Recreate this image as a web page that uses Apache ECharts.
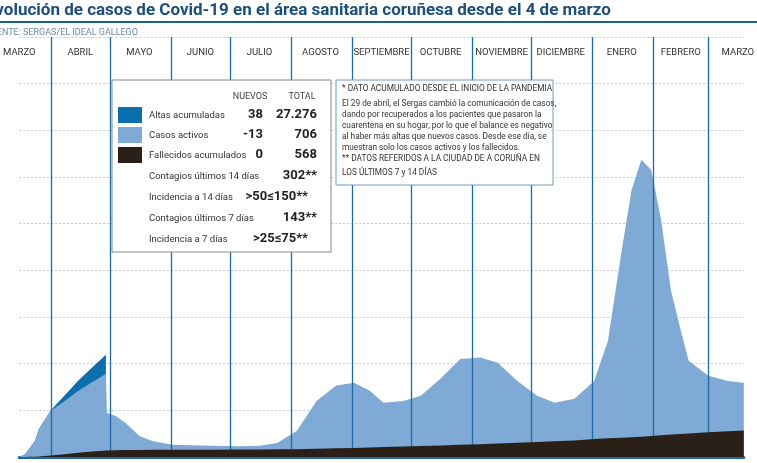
<!DOCTYPE html>
<html><head><meta charset="utf-8">
<script src="https://cdn.jsdelivr.net/npm/echarts@6/dist/echarts.min.js"></script>
<style>html,body{margin:0;padding:0;background:#fff}#c{width:757px;height:463px}</style>
</head><body><div id="c"></div>
<script>
// day index 0 = 4 March 2020
const months = ['MARZO','ABRIL','MAYO','JUNIO','JULIO','AGOSTO','SEPTIEMBRE','OCTUBRE','NOVIEMBRE','DICIEMBRE','ENERO','FEBRERO','MARZO'];
const monthStarts = [28,58,89,119,150,181,211,242,272,303,334,362];
const monthMids = [12,43,73,104,134,165,196,226,257,287,318,348,377];
const days =       [12,15,17,20,22,25,28,35,42,49,56,56.5,61,66,73,80,90,109,124,134,143,153,163,173,182,190,197,207,216,226,236,246,255,265,275,284,294,304,311,318,323,328,333,338,343,348,352,362,372,380];
const activos =    [0,58,166,342,588,780,960,1140,1330,1480,1645,809,735,580,298,186,104,82,70,78,136,394,1025,1345,1395,1215,945,975,1075,1435,1840,1855,1730,1325,990,825,895,1245,2090,4015,5295,5935,5700,4615,3090,2215,1555,1210,1080,1022];
const fallecidos = [0,2,4,8,12,20,30,60,90,120,140,141,145,150,152,154,156,158,160,162,164,166,175,185,195,205,215,225,235,245,260,275,290,305,320,335,355,385,400,415,425,435,450,465,480,495,505,530,550,568];
const altas =      [0,0,0,0,0,0,10,120,220,320,405];
const legendRows = [['Altas acumuladas','38','27.276'],['Casos activos','-13','706'],['Fallecidos acumulados','0','568']];
const extraRows = [['Contagios últimos 14 días','302**'],['Incidencia a 14 días','>50≤150**'],['Contagios últimos 7 días','143**'],['Incidencia a 7 días','>25≤75**']];
const noteLines = ['* DATO ACUMULADO DESDE EL INICIO DE LA PANDEMIA','El 29 de abril, el Sergas cambió la comunicación de casos,','dando por recuperados a los pacientes que pasaron la','cuarentena en su hogar, por lo que el balance es negativo','al haber más altas que nuevos casos. Desde ese día, se','muestran solo los casos activos y los fallecidos.','** DATOS REFERIDOS A LA CIUDAD DE A CORUÑA EN','LOS ÚLTIMOS 7 y 14 DÍAS'];

const cA='#0b6fae', cB='#7eaad5', cD='#2a2017';
const topAltas=[], topAct=[], topDead=[];
days.forEach((d,i)=>{
  topDead.push([d,fallecidos[i]]);
  topAct.push([d,fallecidos[i]+activos[i]]);
  if(i<altas.length) topAltas.push([d,fallecidos[i]+activos[i]+altas[i]]);
});
const F='Roboto, sans-serif';
const g=[];
g.push({type:'line',shape:{x1:0,y1:22,x2:757,y2:22},style:{stroke:'#1d5f95',lineWidth:2},z:10});
g.push({type:'rect',shape:{x:112,y:80,width:219,height:172},style:{fill:'#fff',stroke:'#888',lineWidth:1},z:20});
g.push({type:'text',x:250,y:97,style:{text:'NUEVOS',fill:'#444',font:'9px '+F,align:'center',verticalAlign:'middle'},z:21});
g.push({type:'text',x:302,y:97,style:{text:'TOTAL',fill:'#444',font:'9px '+F,align:'center',verticalAlign:'middle'},z:21});
[cA,cB,cD].forEach((c,i)=>g.push({type:'rect',shape:{x:118,y:107+i*20,width:24,height:16},style:{fill:c},z:21}));
legendRows.forEach((r,i)=>{
  const y=115+i*20;
  g.push({type:'text',x:149,y:y+1,style:{text:r[0],fill:'#333',font:'9.5px '+F,verticalAlign:'middle'},z:21});
  g.push({type:'text',x:263,y:y,style:{text:r[1],fill:'#222',font:'bold 13px '+F,align:'right',verticalAlign:'middle'},z:21});
  g.push({type:'text',x:317,y:y,style:{text:r[2],fill:'#222',font:'bold 13px '+F,align:'right',verticalAlign:'middle'},z:21});
});
extraRows.forEach((r,i)=>{
  const y=176+i*21;
  g.push({type:'text',x:149,y:y+1,style:{text:r[0],fill:'#333',font:'9.5px '+F,verticalAlign:'middle'},z:21});
  g.push({type:'text',x:i%2?308:317,y:y,style:{text:r[1],fill:'#222',font:'bold 13px '+F,align:'right',verticalAlign:'middle'},z:21});
});
g.push({type:'rect',shape:{x:336,y:80,width:217,height:105},style:{fill:'#fff',stroke:'#6a9cc4',lineWidth:1},z:20});
noteLines.forEach((t,i)=>{
  const y=[90,105,116,127,138,149,160,174,185][i];
  g.push({type:'text',x:342,y:y-1,style:{text:t,fill:'#333',font:'8.3px '+F,verticalAlign:'middle'},z:21});
});

const chart=echarts.init(document.getElementById('c'));
chart.setOption({
  animation:false,
  title:{text:'Evolución de casos de Covid-19 en el área sanitaria coruñesa desde el 4 de marzo',
    subtext:'FUENTE: SERGAS/EL IDEAL GALLEGO',left:-19,top:-3,itemGap:9,
    textStyle:{fontFamily:F,fontSize:17,fontWeight:'bold',color:'#1b4e7c'},
    subtextStyle:{fontFamily:F,fontSize:9,color:'#6a8aa5'}},
  grid:{left:0,right:0,top:37,bottom:6},
  xAxis:[{type:'value',min:12,max:380,position:'bottom',
      axisLine:{show:true,onZero:false,lineStyle:{color:'#1668a8',width:3}},
      axisTick:{show:false},axisLabel:{show:false},splitLine:{show:false}},
    {type:'value',min:12,max:380,position:'top',offset:-29,
      axisLine:{show:false},axisTick:{show:false},splitLine:{show:false},
      axisLabel:{customValues:monthMids,fontFamily:F,fontSize:9.5,color:'#333',
        formatter:v=>months[monthMids.indexOf(v)]}}],
  yAxis:{type:'value',min:0,max:9000,interval:1000,axisLine:{show:false},axisTick:{show:false},axisLabel:{show:false},
    splitLine:{lineStyle:{color:'#c8c8c8',type:[2,2],width:1}}},
  series:[
    {type:'line',data:topAltas,symbol:'none',lineStyle:{width:0},areaStyle:{color:cA,opacity:1},z:3},
    {type:'line',data:topAct,symbol:'none',lineStyle:{width:0},areaStyle:{color:cB,opacity:1},z:4,
      markLine:{silent:true,symbol:'none',label:{show:false},lineStyle:{color:'#1c6aa6',width:1.3,type:'solid'},
        data:monthStarts.map(v=>({xAxis:v}))}},
    {type:'line',data:topDead,symbol:'none',lineStyle:{width:0},areaStyle:{color:cD,opacity:1},z:5}
  ],
  graphic:g
});
</script></body></html>
